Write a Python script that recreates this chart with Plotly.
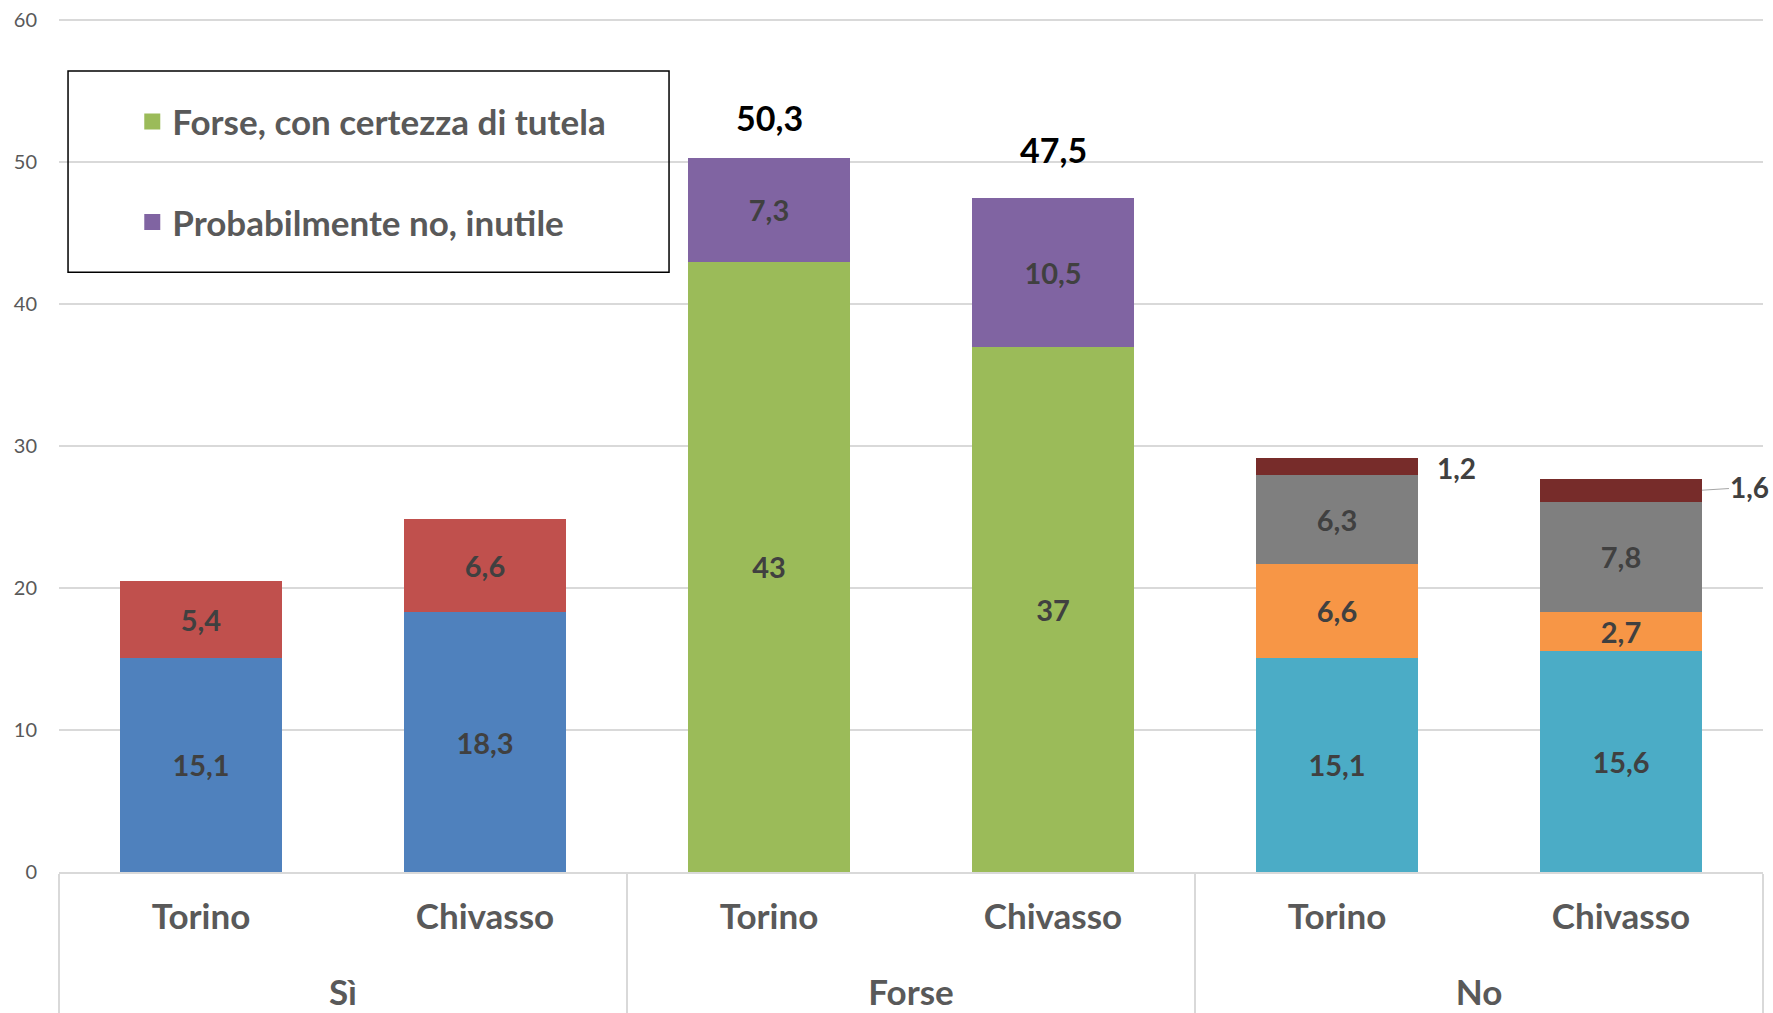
import plotly.graph_objects as go

groups = ["Sì", "Sì", "Forse", "Forse", "No", "No"]
cities = ["Torino", "Chivasso", "Torino", "Chivasso", "Torino", "Chivasso"]

# one list per answer, two bars each (Torino, Chivasso)
si_certo = [15.1, 18.3]
si_prob = [5.4, 6.6]
forse_tutela = [43, 37]
prob_no = [7.3, 10.5]
no_1 = [15.1, 15.6]
no_2 = [6.6, 2.7]
no_3 = [6.3, 7.8]
no_4 = [1.2, 1.6]

totali_forse = [50.3, 47.5]

def fmt(v):
    return ("%g" % v).replace(".", ",")

FONT = "Lato"
LABEL_COL = "#404040"

series = [
    ("Sì, sicuramente", si_certo, 0, "#4F81BD", True, False),
    ("Sì, probabilmente", si_prob, 0, "#C0504D", True, False),
    ("Forse, con certezza di tutela", forse_tutela, 2, "#9BBB59", True, True),
    ("Probabilmente no, inutile", prob_no, 2, "#8064A2", True, True),
    ("No, non serve", no_1, 4, "#4BACC6", True, False),
    ("No, troppo costoso", no_2, 4, "#F79646", True, False),
    ("No, non mi fido", no_3, 4, "#7F7F7F", True, False),
    ("No, altro", no_4, 4, "#772C2A", False, False),
]

# group labels pushed one line down, as in the original
grp_lbl = ["<br>" + g for g in groups]

fig = go.Figure()
for name, vals, start, col, inner, legend in series:
    fig.add_trace(go.Bar(
        x=[grp_lbl[start:start + 2], cities[start:start + 2]],
        y=vals,
        name=name,
        marker=dict(color=col, line=dict(width=0)),
        text=[fmt(v) for v in vals] if inner else None,
        textposition="inside",
        insidetextanchor="middle",
        textangle=0,
        textfont=dict(family=FONT, size=29, color=LABEL_COL, weight="bold"),
        showlegend=False,
        hoverinfo="skip",
    ))

# legend entries drawn as squares
for name, vals, start, col, inner, legend in series:
    if legend:
        fig.add_trace(go.Scatter(x=[None], y=[None], mode="markers", name=name,
                                 legendgroup=name,
                                 marker=dict(symbol="square", size=20, color=col)))

# totals above the Forse bars
for i, (tot, shift) in enumerate(zip(totali_forse, [41, 48])):
    fig.add_annotation(x=2 + i, y=tot, text=fmt(tot), showarrow=False,
                       yshift=shift, font=dict(family=FONT, size=34, color="black", weight="bold"))

# small dark red segments labelled at the side
fig.add_annotation(x=4, y=sum(v[0] for v in [no_1, no_2, no_3]) + no_4[0] / 2,
                   text=fmt(no_4[0]), showarrow=False, xshift=119, yshift=-2,
                   font=dict(family=FONT, size=28, color=LABEL_COL, weight="bold"))
fig.add_annotation(x=5.285, y=sum(v[1] for v in [no_1, no_2, no_3]) + no_4[1] / 2,
                   text=fmt(no_4[1]), showarrow=True, arrowhead=0, arrowwidth=1,
                   arrowcolor="#A6A6A6", ax=48, ay=-3,
                   font=dict(family=FONT, size=28, color=LABEL_COL, weight="bold"))

# legend border
fig.add_shape(type="rect", xref="paper", yref="paper", x0=0.0053, x1=0.358, y0=0.703, y1=0.939,
              line=dict(color="black", width=1.5), fillcolor="rgba(0,0,0,0)")

fig.update_layout(
    width=1773, height=1013,
    margin=dict(l=59, r=10, t=19, b=141),
    barmode="stack",
    bargap=0.43,
    plot_bgcolor="white",
    paper_bgcolor="white",
    separators=",.",
    font=dict(family=FONT, color="#595959"),
    legend=dict(x=0.043, y=0.914, xanchor="left", yanchor="top",
                font=dict(family=FONT, size=35, color="#595959", weight="bold"),
                traceorder="grouped", tracegroupgap=52, itemsizing="trace",
                bgcolor="rgba(0,0,0,0)"),
    uniformtext=dict(mode="show", minsize=28),
)
fig.update_yaxes(range=[0, 60.1], dtick=10, showgrid=True, gridcolor="#D9D9D9", gridwidth=1.5,
                 zeroline=False, showline=False, ticks="", ticklabelstandoff=21,
                 automargin=False,
                 tickfont=dict(family=FONT, size=20, color="#595959"))
fig.update_xaxes(type="multicategory", range=[-0.5, len(cities) - 0.5],
                 showline=True, linecolor="#D9D9D9", linewidth=1.5,
                 showdividers=True, dividercolor="#D9D9D9", dividerwidth=1.5, ticks="",
                 ticklabelstandoff=13, automargin=False,
                 tickfont=dict(family=FONT, size=35, color="#595959", weight="bold"))

# drop the default page margin so the figure sits at the window corner
fig.write_html("out.html", config={"displayModeBar": False},
               post_script="document.body.style.margin='0';")
